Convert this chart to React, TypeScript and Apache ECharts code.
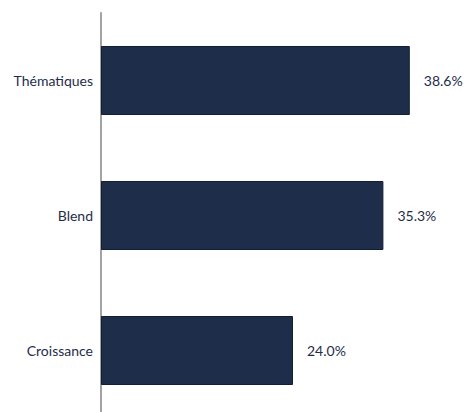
import React, { useEffect, useRef } from "react";
import * as echarts from "echarts";

const categories = ["Thématiques", "Blend", "Croissance"];
const values = [38.6, 35.3, 24.0];

export default function App() {
  const ref = useRef<HTMLDivElement>(null);
  useEffect(() => {
    const chart = echarts.init(ref.current!, undefined, { renderer: "svg" });
    chart.setOption({
      animation: false,
      grid: {
        left: 101,
        top: 13,
        width: 360,
        height: 405,
        containLabel: false,
        outerBoundsMode: "none",
      },
      xAxis: { type: "value", min: 0, max: 45, show: false },
      yAxis: {
        type: "category",
        data: categories,
        inverse: true,
        axisLine: { show: true, lineStyle: { color: "#a3a3a3", width: 2 } },
        axisTick: { show: false },
        axisLabel: {
          margin: 8,
          color: "#1f2d4a",
          fontSize: 14,
          fontFamily: "Lato",
        },
      },
      series: [
        {
          type: "bar",
          data: values,
          barWidth: 69,
          itemStyle: { color: "#1e2d4a", borderColor: "#141e33", borderWidth: 1 },
          label: {
            show: true,
            position: "right",
            distance: 14,
            color: "#1f2d4a",
            fontSize: 14,
            fontFamily: "Lato",
            formatter: (p: any) => p.value.toFixed(1) + "%",
          },
        },
      ],
    });
    return () => chart.dispose();
  }, []);
  return (
    <div
      ref={ref}
      style={{ position: "fixed", left: 0, top: 0, width: 465, height: 412, background: "#fff" }}
    />
  );
}
